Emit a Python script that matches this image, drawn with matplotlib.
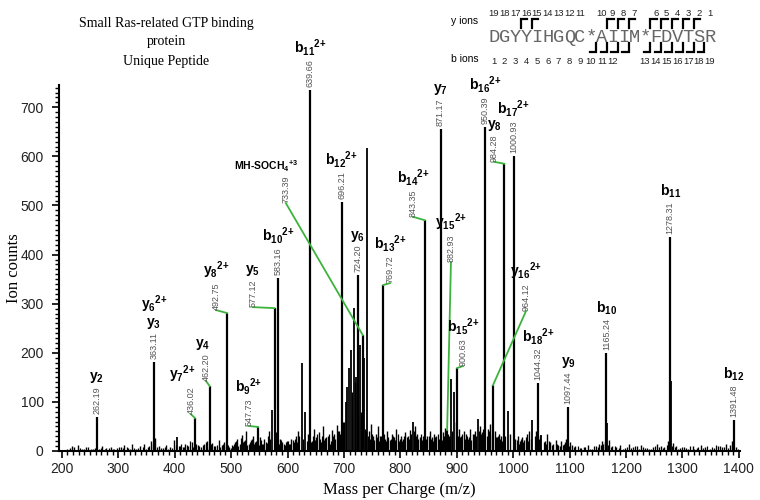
import matplotlib
matplotlib.use('Agg')
import matplotlib.pyplot as plt
from matplotlib.ticker import MultipleLocator

plt.rcParams['mathtext.fontset'] = 'custom'
plt.rcParams['mathtext.rm'] = 'Liberation Sans'
plt.rcParams['mathtext.bf'] = 'Liberation Sans:bold'

NARROW = ['Liberation Sans Narrow', 'Liberation Sans', 'DejaVu Sans']
SANS = ['Liberation Sans', 'DejaVu Sans']
SERIF = ['Liberation Serif', 'DejaVu Serif']
GREEN = '#3cb43c'

# annotated fragment ions
ion_mz = [262.19, 363.11, 436.02, 462.20, 492.75, 547.73, 577.12, 583.16,
          639.66, 696.21, 724.20, 733.39, 769.72, 843.35, 871.17, 882.93,
          900.63, 950.39, 964.12, 984.28, 1000.93, 1044.32, 1097.44,
          1165.24, 1278.31, 1391.48]
ion_counts = [69, 181, 67, 132, 281, 49, 291, 352,
              735, 507, 358, 236, 338, 470, 656, 43,
              169, 660, 134, 585, 601, 138, 90,
              200, 436, 63]
ion_names = ['y2', 'y3;y6 2+', 'y7 2+', 'y4', 'y8 2+', 'b9 2+', 'y5', 'b10 2+',
             'b11 2+', 'b12 2+', 'y6', 'MH-SOCH4 +3', 'b13 2+', 'b14 2+', 'y7', 'y15 2+',
             'b15 2+', 'b16 2+', 'y16 2+', 'y8', 'b17 2+', 'b18 2+', 'y9',
             'b10', 'b11', 'b12']

# larger unassigned peaks
other_mz = [404, 573, 625, 631, 703, 706, 709, 712, 717, 721, 728, 735, 741,
            822, 890, 895, 937, 991, 1034, 1050, 1166, 1279.3]
other_counts = [29, 84, 179, 80, 100, 130, 169, 206, 291, 150, 216, 189, 617,
                59, 147, 120, 65, 82, 63, 33, 58, 143]

# baseline noise peaks
noise_mz = [214, 218, 222, 228, 236, 243, 251, 258, 266, 272, 279, 287, 293, 298,
            305, 311, 318, 324, 331, 339, 346, 352, 358, 366, 372, 379, 385, 392, 398,
            409, 414, 419, 424, 430, 441, 447, 452, 457, 467, 472, 478, 484, 488, 497,
            503, 507, 511, 515, 519, 523, 527, 531, 535, 539, 543, 551, 555, 559, 563,
            567, 580, 587, 591, 595, 599,
            603, 607, 611, 615, 619, 636, 643, 647, 651, 655, 659, 663, 667, 671, 675,
            679, 683, 687, 691, 699,
            715, 719, 723, 731, 737, 745, 748, 752, 756, 760,
            764, 773, 777, 781, 785, 789, 793, 797, 801, 805, 809, 813, 817, 826, 830,
            834, 838, 848, 852, 856, 860,
            864, 868, 875, 879, 886, 898, 904, 908, 912, 916, 920, 924, 928, 932, 941,
            945, 955, 959,
            967, 971, 975, 979, 995, 1004, 1008, 1012, 1016, 1020, 1024, 1028, 1040,
            1048, 1056, 1060, 1065, 1070, 1075, 1080, 1085, 1090, 1094, 1101, 1105,
            1110, 1118, 1125, 1132, 1140, 1147, 1152, 1158, 1162, 1170, 1176, 1183,
            1190, 1198, 1205, 1212, 1220, 1226, 1233, 1240, 1248, 1255, 1262, 1268,
            1275, 1284, 1288, 1295, 1302, 1310, 1318, 1325, 1332, 1340, 1348, 1356,
            1363, 1370, 1377, 1385, 1388, 1395]
noise_counts = [6, 10, 8, 12, 5, 9, 4, 7, 5, 10, 6, 8, 4, 7,
                9, 12, 7, 15, 5, 10, 14, 8, 20, 26, 10, 6, 12, 8, 22,
                10, 8, 15, 11, 18, 12, 9, 14, 20, 16, 10, 22, 13, 18, 8,
                10, 18, 25, 14, 32, 20, 40, 15, 22, 30, 18, 28, 14, 24, 16,
                40, 38, 25, 18, 12, 20,
                15, 25, 18, 30, 40, 35, 20, 45, 28, 38, 18, 50, 26, 30, 15,
                42, 34, 52, 40, 60,
                120, 140, 110, 80, 45, 40, 55, 30, 35, 50,
                30, 25, 40, 22, 35, 28, 45, 20, 30, 25, 38, 30, 42, 50, 35,
                28, 22, 30, 40, 28, 35,
                30, 25, 38, 46, 30, 60, 45, 30, 40, 35, 25, 45, 35, 40, 50,
                38, 45, 55,
                40, 28, 35, 30, 35, 25, 30, 20, 28, 22, 35, 40, 40,
                30, 20, 35, 18, 15, 22, 12, 20, 15, 25, 18, 12,
                10, 6, 8, 12, 5, 10, 15, 20, 18, 22, 10, 8,
                12, 6, 14, 8, 10, 12, 6, 5, 8, 14, 10, 8,
                20, 16, 10, 6, 8, 5, 10, 6, 12, 8, 5, 6,
                10, 8, 14, 12, 20, 8]

# second pass of smaller noise between the ones above
fill_mz = [210, 232, 240, 247, 255, 269, 276, 283, 290,
           301, 308, 315, 321, 328, 335, 343, 349, 355, 362, 369, 376, 382, 389, 395,
           402, 407, 412, 417, 422, 427, 433, 438, 444, 450, 455, 460, 465, 470, 475,
           481, 486, 491, 495, 499,
           501, 505, 509, 513, 517, 521, 525, 529, 533, 537, 541, 545, 549, 553, 557,
           561, 565, 569, 578, 582, 585, 589, 593, 597,
           601, 605, 609, 613, 617, 621, 627, 634, 638, 641, 645, 649, 653, 657, 661,
           665, 669, 673, 677, 681, 685, 689, 693, 695, 697, 701,
           725, 733, 739, 743, 747, 750, 754, 758, 762, 766, 768, 771, 775, 779, 783,
           787, 791, 795, 799, 803, 807, 811, 815, 819, 824, 828, 832, 836, 840, 845,
           850, 854, 858, 862, 866, 873, 877, 881, 884, 888, 892, 902, 906, 910, 914,
           918, 922, 926, 930, 934, 939, 943, 947, 953, 957, 962, 969, 973, 977, 981, 986,
           1002, 1006, 1010, 1014, 1018, 1022, 1026, 1032, 1038, 1042, 1046, 1054,
           1058, 1063, 1068, 1078, 1083, 1088, 1092, 1099, 1108, 1114, 1121, 1128,
           1136, 1144, 1150, 1155, 1160, 1164, 1168, 1173, 1180, 1187, 1194, 1202,
           1209, 1216, 1223, 1230, 1237, 1244, 1251, 1258, 1265, 1272, 1281, 1286,
           1292, 1299, 1306, 1314, 1321, 1328, 1336, 1344, 1352, 1360, 1367, 1374,
           1381, 1390, 1398]
fill_counts = [4, 6, 5, 8, 4, 6, 5, 7, 5,
               8, 6, 9, 5, 7, 6, 8, 5, 10, 14, 8, 6, 9, 5, 7,
               12, 10, 14, 9, 12, 20, 8, 15, 10, 12, 18, 9, 14, 11, 13,
               8, 15, 10, 12, 7,
               12, 15, 20, 10, 26, 18, 22, 12, 18, 25, 14, 20, 12, 22, 15,
               18, 30, 25, 30, 20, 15, 22, 14, 18,
               20, 15, 22, 25, 18, 30, 24, 20, 28, 18, 30, 22, 35, 25, 30,
               22, 28, 35, 20, 30, 25, 40, 35, 28, 45, 60,
               70, 60, 40, 30, 25, 35, 22, 28, 20, 30, 25, 35, 20, 28, 24,
               30, 22, 35, 25, 20, 30, 28, 25, 35, 40, 30, 25, 35, 30, 25,
               30, 25, 20, 28, 35, 22, 30, 25, 35, 28, 40, 30, 28, 35, 25,
               30, 28, 22, 35, 30, 40, 35, 45, 30, 40, 35, 28, 30, 25, 20, 30,
               18, 22, 15, 25, 18, 28, 20, 25, 30, 22, 25, 18,
               15, 20, 12, 15, 10, 12, 18, 10, 8, 10, 6, 8,
               5, 10, 8, 12, 14, 15, 12, 8, 10, 6, 5, 8,
               6, 10, 5, 8, 6, 5, 10, 8, 6, 12, 10, 8,
               5, 8, 6, 10, 5, 8, 6, 10, 8, 12, 10, 8,
               6, 10, 5]

# text placement for labels fed by a green leader line (m/z, counts of number's foot)
leader_text = {436.02: (428.7, 75), 462.20: (455.3, 143), 492.75: (473.2, 287),
               547.73: (531.6, 51), 577.12: (538.7, 293), 733.39: (597, 505),
               769.72: (781.6, 342), 843.35: (822.4, 477), 882.93: (889.7, 385),
               900.63: (911, 173), 964.12: (1022.7, 285), 984.28: (966, 589)}
label_dx = {733.39: -14, 436.02: -6, 462.20: -2}

# peptide sequence diagram
sequence = list('DGYYIHGQC*AIIM*FDVTSR')
y_numbers = [19, 18, 17, 16, 15, 14, 13, 12, 11, None, 10, 9, 8, 7, None, 6, 5, 4, 3, 2, 1]
b_numbers = [1, 2, 3, 4, 5, 6, 7, 8, 9, 10, 11, 12, None, None, 13, 14, 15, 16, 17, 18, 19]
y_cuts = [3, 4, 11, 12, 13, 15, 16, 17, 18, 19]
b_cuts = [10, 11, 12, 13, 15, 16, 17, 18, 19, 20]


def ion_tex(name):
    if name.startswith('MH'):
        return r'MH-SOCH$_\mathbf{4}{}^\mathbf{+3}$'
    base = name.split()
    letter, idx = base[0][0], base[0][1:]
    s = letter + r'$_\mathbf{' + idx + '}'
    if len(base) > 1:
        charge = base[1].replace('+', '{+}')
        s += r'{}^\mathbf{' + charge + '}'
    return s + '$'


fig = plt.figure(figsize=(7.6, 5.0), dpi=100)
ax = fig.add_axes([59 / 760, 0.098, 681 / 760, 0.7316])

ax.vlines(fill_mz, 0, fill_counts, color='black', lw=0.9)
ax.vlines(noise_mz, 0, noise_counts, color='black', lw=1.0)
ax.vlines(other_mz, 0, other_counts, color='black', lw=1.3)
ax.vlines(ion_mz, 0, ion_counts, color='black', lw=1.6)

for mz, h, name in zip(ion_mz, ion_counts, ion_names):
    num_kw = dict(rotation=90, ha='center', va='bottom', fontsize=6.5,
                  color='#555555', family=NARROW, clip_on=False)
    if mz in leader_text:
        tx, ty = leader_text[mz]
        ax.plot([tx, mz], [ty, h], color=GREEN, lw=1.3, clip_on=False)
        num = ax.text(tx, ty, f'{mz:.2f}', **num_kw)
    else:
        num = ax.annotate(f'{mz:.2f}', xy=(mz, h), xytext=(0, 2),
                          textcoords='offset points', annotation_clip=False, **num_kw)
    prev = num
    small = name.startswith('MH')
    for part in name.split(';'):
        prev = ax.annotate(ion_tex(part), xy=(0.5, 1), xycoords=prev,
                           xytext=(label_dx.get(mz, 0), 1), textcoords='offset points',
                           ha='center', va='bottom', fontsize=7.5 if small else 10,
                           fontweight='bold', family=SANS, annotation_clip=False)

ax.set_xlim(195, 1402)
ax.set_ylim(0, 745)
ax.xaxis.set_major_locator(MultipleLocator(100))
ax.xaxis.set_minor_locator(MultipleLocator(10))
ax.yaxis.set_major_locator(MultipleLocator(100))
ax.yaxis.set_minor_locator(MultipleLocator(10))
ax.tick_params(which='major', direction='out', length=5, width=1.2)
ax.tick_params(which='minor', direction='out', length=3, width=1.0)
ax.tick_params(axis='y', pad=6)
ax.tick_params(axis='x', pad=3)
for lab in ax.get_xticklabels() + ax.get_yticklabels():
    lab.set_family(NARROW)
    lab.set_fontsize(10)
    lab.set_color('#222222')
for side in ['top', 'right']:
    ax.spines[side].set_visible(False)
for side in ['left', 'bottom']:
    ax.spines[side].set_linewidth(1.5)

ax.set_xlabel('Mass per Charge (m/z)', family=SERIF, fontsize=12, labelpad=4)
ax.set_ylabel('Ion counts', family=SERIF, fontsize=12)
ax.yaxis.set_label_coords(-0.054, 0.5)

# overlay in pixel coordinates for title block and sequence diagram
ov = fig.add_axes([0, 0, 1, 1])
ov.set_xlim(0, 760)
ov.set_ylim(500, 0)
ov.axis('off')

for i, line in enumerate(['Small Ras-related GTP binding', 'protein', 'Unique Peptide']):
    ov.text(166, 23 + 19 * i, line, ha='center', va='center', family=SERIF, fontsize=10)

step = 10.8
x0 = 488.3
for i, ch in enumerate(sequence):
    xc = x0 + step * (i + 0.5)
    ov.text(xc, 37, ch, ha='center', va='center', family=['Liberation Mono', 'DejaVu Sans Mono'],
            fontsize=13.5, color='#666666')
    if y_numbers[i] is not None:
        ov.text(xc, 13, str(y_numbers[i]), ha='center', va='center', family=SANS,
                fontsize=6.8, color='#222222')
    if b_numbers[i] is not None:
        ov.text(xc, 62, str(b_numbers[i]), ha='center', va='center', family=SANS,
                fontsize=6.8, color='#222222')

for k in y_cuts:
    xb = x0 + step * k
    ov.plot([xb, xb, xb + 6.5], [28, 19, 19], color='black', lw=1.6, solid_joinstyle='miter')
for k in b_cuts:
    xb = x0 + step * k
    ov.plot([xb - 6.5, xb, xb], [52, 52, 43], color='black', lw=1.6, solid_joinstyle='miter')

ov.text(465, 21, 'y ions', ha='center', va='center', family=SANS, fontsize=7.5)
ov.text(465, 59, 'b ions', ha='center', va='center', family=SANS, fontsize=7.5)

fig.savefig('out.png', dpi=100)
